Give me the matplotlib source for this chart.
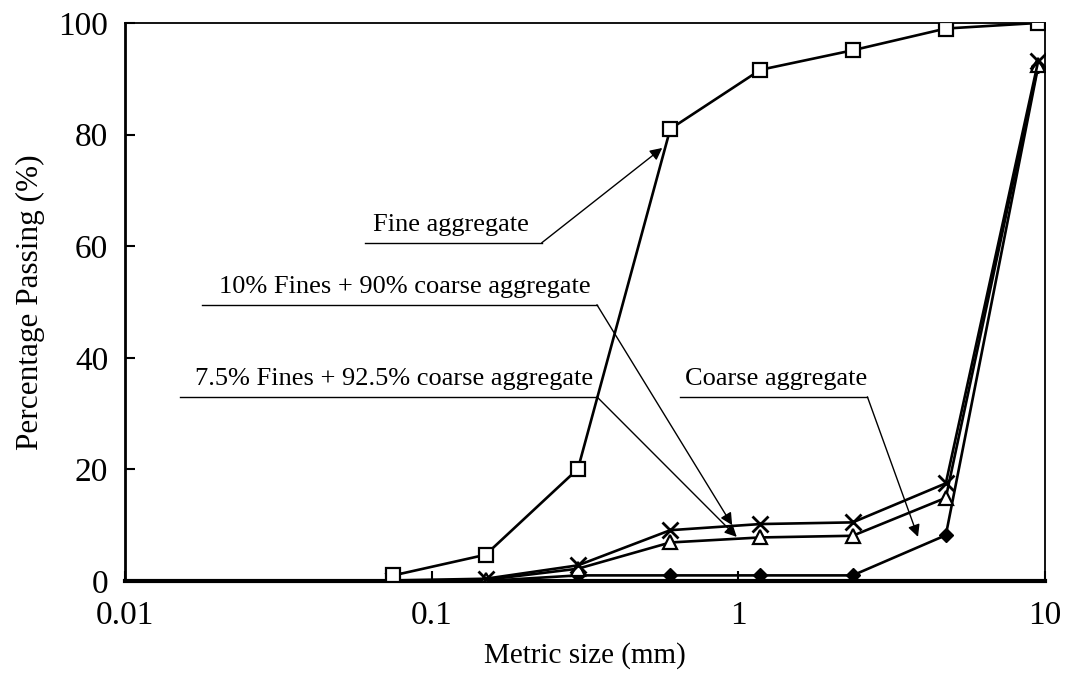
import matplotlib.pyplot as plt

plt.rcParams['font.family'] = ['Liberation Serif', 'DejaVu Serif']

# sieve sizes (mm) and percentage passing for each grading
sizes = [0.075, 0.15, 0.3, 0.6, 1.18, 2.36, 4.75, 9.5]
fine = [1.0, 4.7, 20.1, 81.0, 91.6, 95.1, 99.0, 100.0]
coarse = [0.0, 0.0, 1.0, 1.0, 1.0, 1.0, 8.2, 92.2]
mix_10 = [0.1, 0.4, 2.8, 9.1, 10.2, 10.5, 17.5, 93.1]
mix_75 = [0.0, 0.2, 2.2, 6.9, 7.8, 8.1, 14.9, 92.5]

xticks = [0.01, 0.1, 1, 10]
xtick_labels = ['0.01', '0.1', '1', '10']
yticks = [0, 20, 40, 60, 80, 100]

fig = plt.figure(figsize=(10.7, 6.75), dpi=100)
ax = fig.add_axes([0.1168, 0.1393, 0.8598, 0.8267])

lw = 1.9
ax.plot(sizes, coarse, color='black', lw=lw, marker='D', ms=7,
        mfc='black', mec='black', zorder=3)
ax.plot(sizes, mix_75, color='black', lw=lw, marker='^', ms=10,
        mfc='white', mec='black', mew=1.6, zorder=4)
ax.plot(sizes, mix_10, color='black', lw=lw, marker='x', ms=11,
        mec='black', mew=2.0, zorder=5)
ax.plot(sizes, fine, color='black', lw=lw, marker='s', ms=10,
        mfc='white', mec='black', mew=1.6, zorder=6)

ax.set_xscale('log')
ax.set_xlim(0.01, 10)
ax.set_ylim(0, 100)
ax.set_xticks(xticks)
ax.set_xticklabels(xtick_labels)
ax.set_yticks(yticks)
ax.minorticks_off()
ax.tick_params(direction='in', length=7, width=1.5, labelsize=24)
ax.tick_params(axis='x', pad=14)
ax.tick_params(axis='y', pad=12)

ax.spines['bottom'].set_linewidth(3.0)
ax.spines['left'].set_linewidth(2.0)
ax.spines['top'].set_linewidth(1.3)
ax.spines['right'].set_linewidth(1.3)

ax.set_xlabel('Metric size (mm)', fontsize=21, labelpad=8)
ax.set_ylabel('Percentage Passing (%)', fontsize=22.5, labelpad=10)

# callout labels: text sitting on an underline, leader line ending in an arrow
callouts = [
    ('Fine aggregate', 0.354, 0.261, 0.453, 0.606, (0.584, 0.776)),
    ('10% Fines + 90% coarse aggregate', 0.304, 0.084, 0.513, 0.495, (0.660, 0.100)),
    ('7.5% Fines + 92.5% coarse aggregate', 0.292, 0.060, 0.513, 0.330, (0.665, 0.079)),
    ('Coarse aggregate', 0.708, 0.603, 0.807, 0.330, (0.862, 0.079)),
]
for label, tx, x0, x1, y, tip in callouts:
    ax.text(tx, y + 0.012, label, transform=ax.transAxes, ha='center',
            va='bottom', fontsize=19)
    ax.plot([x0, x1], [y, y], transform=ax.transAxes, color='black',
            lw=1.0, zorder=7)
    ax.annotate('', xy=tip, xycoords='axes fraction', xytext=(x1, y),
                textcoords='axes fraction',
                arrowprops=dict(arrowstyle='-|>', color='black', lw=1.0,
                                mutation_scale=18, shrinkA=0, shrinkB=0),
                zorder=7)

fig.savefig('out.png', dpi=100)
